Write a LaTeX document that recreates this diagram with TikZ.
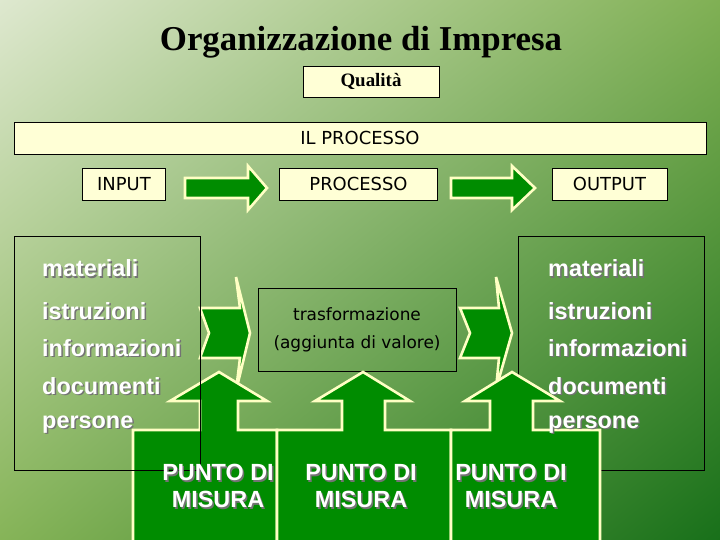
\documentclass[tikz,border=0pt]{standalone}
\usepackage{fontspec}
\setmainfont{Liberation Serif}
\setsansfont{Liberation Sans}
\newfontfamily\tahoma{DejaVu Sans}
\usetikzlibrary{positioning,shadings}

\definecolor{bgul}{RGB}{222,232,207}
\definecolor{bgur}{RGB}{128,176,84}
\definecolor{bgll}{RGB}{134,180,88}
\definecolor{bglr}{RGB}{24,112,26}
\definecolor{boxcream}{RGB}{255,255,214}
\definecolor{edgecream}{RGB}{255,255,196}
\definecolor{arrowgreen}{RGB}{0,140,0}

\begin{document}
\begin{tikzpicture}[x=1bp,y=-1bp,
    box/.style={draw=black,fill=boxcream,line width=0.8bp,inner sep=0pt,
      font=\tahoma\fontsize{18}{20}\selectfont},
    frame/.style={draw=black,line width=0.8bp,inner sep=0pt},
    blockarrow/.style={fill=arrowgreen,draw=edgecream,line width=2.6bp,line join=miter},
    listword/.style={anchor=base west,inner sep=0pt,text=white,
      font=\sffamily\bfseries\fontsize{23.5}{27}\selectfont},
    listshadow/.style={listword,text=black!55},
    pointlabel/.style={align=center,inner sep=0pt,text=white,
      font=\sffamily\bfseries\fontsize{23.5}{27}\selectfont},
    pointshadow/.style={pointlabel,text=black!55}]
  \useasboundingbox (0,0) rectangle (720,540);
  \shade[upper left=bgul,upper right=bgur,lower left=bgll,lower right=bglr]
    (0,0) rectangle (720,540);
  \clip (0,0) rectangle (720,540);

  % heading
  \node[inner sep=0pt,font=\bfseries\fontsize{35}{40}\selectfont] (title) at (361,42) {Organizzazione di Impresa};
  \node[box,minimum width=136bp,minimum height=31bp,font=\bfseries\fontsize{19}{22}\selectfont] (quality) at (371,81.5) {Qualità};

  % the process line
  \node[box,minimum width=692bp,minimum height=32bp] (bar) at (360,138) {IL PROCESSO};
  \node[box,minimum width=83bp,minimum height=32bp] (input) at (124,184) {INPUT};
  \node[box,minimum width=158bp,minimum height=32bp] (processo) at (358.5,184) {PROCESSO};
  \node[box,minimum width=115bp,minimum height=32bp] (output) at (609.5,184) {OUTPUT};
  \draw[blockarrow] (185,178) -- (248,178) -- (248,166) -- (267,188) -- (248,210) -- (248,198) -- (185,198) -- cycle;
  \draw[blockarrow] (451,178) -- (512,178) -- (512,166) -- (535,188) -- (512,210) -- (512,198) -- (451,198) -- cycle;

  % boxes
  \node[frame,minimum width=186bp,minimum height=234bp] (rightbox) at (611,353) {};
  \node[frame,minimum width=198bp,minimum height=83bp,align=center,
    font=\tahoma\fontsize{17}{28}\selectfont] (trasf) at (357,329.5) {trasformazione\\(aggiunta di valore)};

  % notched arrows
  \draw[blockarrow] (200,308) -- (240,308) -- (236,277) -- (250,333) -- (236,391) -- (240,358) -- (200,358) -- (209,333) -- cycle;
  \draw[blockarrow] (460,308) -- (499,308) -- (496,277) -- (512,333) -- (496,389) -- (499,358) -- (460,358) -- (470,333) -- cycle;

  % measuring points
  \draw[blockarrow] (133,548) -- (133,430) -- (200,430) -- (200,401) -- (170,401) -- (219,372)
    -- (267,401) -- (238,401) -- (238,430) -- (277,430) -- (277,548);
  \draw[blockarrow] (277,548) -- (277,430) -- (342,430) -- (342,401) -- (315,401) -- (363,372)
    -- (410,401) -- (385,401) -- (385,430) -- (451,430) -- (451,548);
  \draw[blockarrow] (451,548) -- (451,430) -- (490,430) -- (490,401) -- (465,401) -- (512,372)
    -- (560,401) -- (533,401) -- (533,430) -- (600,430) -- (600,548);

  \node[frame,minimum width=186bp,minimum height=234bp] (leftbox) at (107,353) {};

  \foreach \word/\base [count=\i] in {materiali/277,istruzioni/319,informazioni/356,documenti/394,persone/428}{
    \node[listshadow] (ls\i) at (43.5,\base+1.5) {\word};
    \node[listword] (l\i) at (42,\base) {\word};
    \node[listshadow] (rs\i) at (549.5,\base+1.5) {\word};
    \node[listword] (r\i) at (548,\base) {\word};
  }

  \foreach \px [count=\i] in {218,361,511}{
    \node[pointshadow] (ps\i) at (\px+1.5,487.5) {PUNTO DI\\MISURA};
    \node[pointlabel] (p\i) at (\px,486) {PUNTO DI\\MISURA};
  }
\end{tikzpicture}
\end{document}
